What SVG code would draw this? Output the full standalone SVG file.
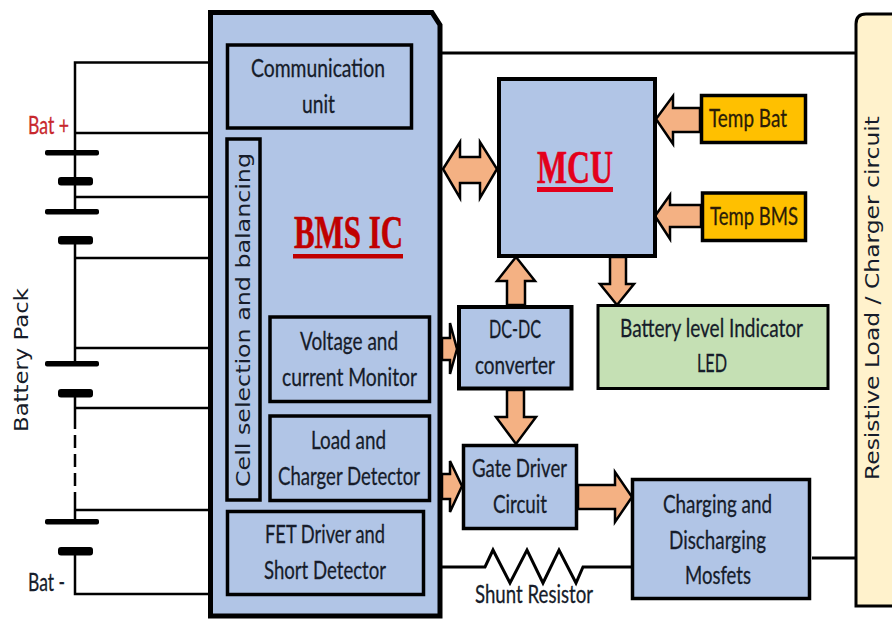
<svg xmlns="http://www.w3.org/2000/svg" width="892" height="619" viewBox="0 0 892 619">
<style>
.b{fill:#b1c5e6;stroke:#000;stroke-width:3.5}
.t{font-family:Lato,"Liberation Sans",sans-serif;font-size:25px;fill:#161c2a;stroke:#161c2a;stroke-width:.3}
.v{font-family:"DejaVu Sans","Liberation Sans",sans-serif;font-size:20px;fill:#161c2a}
.s{font-family:"Liberation Serif",serif;font-weight:bold;font-size:46px;stroke-width:.6}
.w{fill:none;stroke:#000;stroke-width:2.5}
.a{fill:#f4b183;stroke:#000;stroke-width:2.5;stroke-linejoin:miter}
.p{fill:#000}
</style>
<rect width="892" height="619" fill="#fff"/>
<g id="connectors">
<path class="w" d="M208 62.500H75V181M75 133H208M75 197H208M75 181V212M75 240V364M75 258H208M75 348H208M75 393V416M75 408H208M75 500V522M75 510H208M75 551V594H208"/>
<path class="w" d="M75 416V500" stroke-dasharray="13 6"/>
<path class="w" d="M442 53H855M812 558H855M442 567H485L493 550L510 583L527 550L543 583L559 550L576 583L583 567H632" style="stroke-width:3"/>
<path class="a" d="M443 169L460 142V157H480V142L497 169L480 198V183H460V198Z"/>
<path class="a" d="M700 108H673V96L656 119L673 144V132H700Z"/>
<path class="a" d="M701 205H670V195L655 216L670 239V227H701Z"/>
<path class="a" d="M507 305V281H497L516 257L535 281H525V305Z"/>
<path class="a" d="M610 257V284H600L617 305L634 284H626V257Z"/>
<path class="a" d="M507 390V417H496L516 444L536 417H524V390Z"/>
<path class="a" d="M578 485H615V472L632 497L615 522V509H578Z"/>
<path class="a" d="M442 338H450V323L457 349L450 374V360H442Z"/>
<path class="a" d="M442 474H450V461L462 486L450 512V499H442Z"/>
<g id="cells">
<rect class="p" x="45" y="150" width="54" height="5.500" rx="2"/><rect class="p" x="58" y="177" width="35" height="8.500" rx="3"/>
<rect class="p" x="45" y="209" width="54" height="5.500" rx="2"/><rect class="p" x="58" y="236" width="35" height="8.500" rx="3"/>
<rect class="p" x="45" y="361" width="54" height="5.500" rx="2"/><rect class="p" x="58" y="389" width="35" height="8.500" rx="3"/>
<rect class="p" x="45" y="519" width="54" height="5.500" rx="2"/><rect class="p" x="58" y="547" width="35" height="8.500" rx="3"/>
</g>
</g>
<g id="battery-labels">
<text class="t" x="28" y="134" textLength="41" lengthAdjust="spacingAndGlyphs" style="fill:#c8282d;stroke:#c8282d">Bat +</text>
<text class="t" x="28" y="591" textLength="37" lengthAdjust="spacingAndGlyphs">Bat -</text>
<text class="v" transform="translate(27.500 432) rotate(-90)" textLength="144" lengthAdjust="spacingAndGlyphs" style="font-size:19px">Battery Pack</text>
</g>
<g id="bms-ic">
<path d="M210.500 12.500H432L440 25V616H210.500Z" fill="#b1c5e6" stroke="#000" stroke-width="5"/>
<text class="s" x="294" y="248" textLength="109" lengthAdjust="spacingAndGlyphs" fill="#c00000" stroke="#c00000">BMS IC</text>
<rect x="293" y="254" width="110" height="4.500" fill="#c00000"/>
</g>
<g id="communication-unit">
<rect class="b" x="227.500" y="45" width="184" height="83"/>
<text class="t" x="251" y="77" textLength="134" lengthAdjust="spacingAndGlyphs">Communication</text>
<text class="t" x="302" y="113" textLength="33" lengthAdjust="spacingAndGlyphs">unit</text>
</g>
<g id="cell-selection">
<rect class="b" x="227" y="139" width="33" height="361"/>
<text class="v" transform="translate(250 487) rotate(-90)" textLength="334" lengthAdjust="spacingAndGlyphs">Cell selection and balancing</text>
</g>
<g id="voltage-monitor">
<rect class="b" x="270" y="317" width="159.500" height="84.500"/>
<text class="t" x="300" y="350" textLength="98" lengthAdjust="spacingAndGlyphs">Voltage and</text>
<text class="t" x="282" y="386" textLength="135" lengthAdjust="spacingAndGlyphs">current Monitor</text>
</g>
<g id="load-detector">
<rect class="b" x="270" y="416" width="159.500" height="84.500"/>
<text class="t" x="311" y="449" textLength="75" lengthAdjust="spacingAndGlyphs">Load and</text>
<text class="t" x="278" y="485" textLength="142" lengthAdjust="spacingAndGlyphs">Charger Detector</text>
</g>
<g id="fet-driver">
<rect class="b" x="227.500" y="511.500" width="196" height="83"/>
<text class="t" x="265" y="543" textLength="120" lengthAdjust="spacingAndGlyphs">FET Driver and</text>
<text class="t" x="264" y="579" textLength="122" lengthAdjust="spacingAndGlyphs">Short Detector</text>
</g>
<g id="mcu">
<rect class="b" x="499" y="79" width="156" height="177" style="stroke-width:4"/>
<text class="s" x="537" y="183" textLength="76" lengthAdjust="spacingAndGlyphs" fill="#e3001b" stroke="#e3001b">MCU</text>
<rect x="537" y="187" width="76" height="5" fill="#e3001b"/>
</g>
<g id="temp-bat">
<rect x="701.500" y="95.500" width="104" height="47" fill="#ffc000" stroke="#000" stroke-width="3.500"/>
<text class="t" x="709" y="127" textLength="78" lengthAdjust="spacingAndGlyphs" style="fill:#2a1c08;stroke:#2a1c08">Temp Bat</text>
</g>
<g id="temp-bms">
<rect x="702.500" y="193" width="103" height="47.500" fill="#ffc000" stroke="#000" stroke-width="3.500"/>
<text class="t" x="710" y="225" textLength="88" lengthAdjust="spacingAndGlyphs" style="fill:#2a1c08;stroke:#2a1c08">Temp BMS</text>
</g>
<g id="dc-dc">
<rect class="b" x="459" y="307" width="112.500" height="81.500" style="stroke-width:4"/>
<text class="t" x="489" y="338" textLength="52" lengthAdjust="spacingAndGlyphs">DC-DC</text>
<text class="t" x="475" y="374" textLength="80" lengthAdjust="spacingAndGlyphs">converter</text>
</g>
<g id="battery-led">
<rect x="598" y="305.500" width="230" height="83" fill="#c5e0b4" stroke="#000" stroke-width="3"/>
<text class="t" x="620" y="337" textLength="183" lengthAdjust="spacingAndGlyphs">Battery level Indicator</text>
<text class="t" x="697" y="372" textLength="30" lengthAdjust="spacingAndGlyphs">LED</text>
</g>
<g id="gate-driver">
<rect class="b" x="463.500" y="445.500" width="113" height="83"/>
<text class="t" x="472" y="477" textLength="95" lengthAdjust="spacingAndGlyphs">Gate Driver</text>
<text class="t" x="493" y="513" textLength="54" lengthAdjust="spacingAndGlyphs">Circuit</text>
</g>
<g id="mosfets">
<rect class="b" x="632.500" y="479.500" width="177" height="119"/>
<text class="t" x="663" y="513" textLength="109" lengthAdjust="spacingAndGlyphs">Charging and</text>
<text class="t" x="669" y="549" textLength="97" lengthAdjust="spacingAndGlyphs">Discharging</text>
<text class="t" x="685" y="584" textLength="66" lengthAdjust="spacingAndGlyphs">Mosfets</text>
</g>
<g id="shunt-resistor">
<text class="t" x="475" y="603" textLength="118" lengthAdjust="spacingAndGlyphs">Shunt Resistor</text>
</g>
<g id="load-charger">
<path d="M900 14H866Q856 14 856 24V606H900Z" fill="#fff2cc" stroke="#000" stroke-width="3"/>
<text class="v" transform="translate(879 480) rotate(-90)" textLength="364" lengthAdjust="spacingAndGlyphs">Resistive Load / Charger circuit</text>
</g>
</svg>
